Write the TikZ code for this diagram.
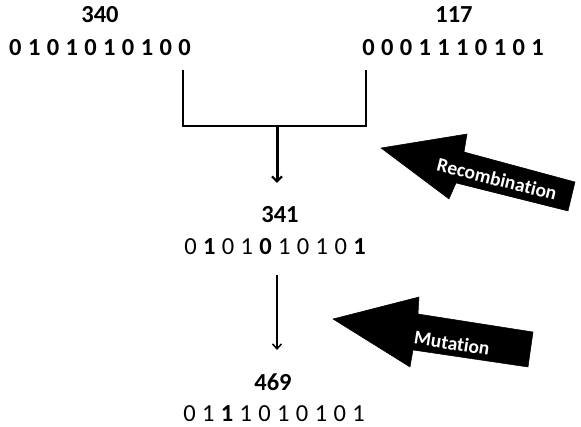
\documentclass[tikz,border=0pt]{standalone}
\usepackage{fontspec}
\setmainfont{Carlito}[Ligatures={NoCommon,NoRequired,NoContextual}]
\usetikzlibrary{arrows.meta}
\newcommand{\widespacing}{\spaceskip=0.26em\relax}
\begin{document}
\begin{tikzpicture}[x=1pt,y=1pt,
  num/.style={font=\fontsize{24.5}{28}\selectfont\bfseries, inner sep=0pt, anchor=center},
  bits/.style={font=\fontsize{24.5}{28}\selectfont, execute at begin node=\widespacing, inner sep=0pt, anchor=center},
  bbits/.style={font=\fontsize{24.5}{28}\selectfont\bfseries, execute at begin node=\widespacing, inner sep=0pt, anchor=center},
  bracket/.style={line width=1.6pt},
  thickarrow/.style={line width=3pt, -{Straight Barb[length=5pt,width=10pt,line width=2.2pt]}},
  thinarrow/.style={line width=1.5pt, -{Straight Barb[length=5pt,width=9pt]}},
  bigarrow/.style={fill=black, draw=black, line width=0.5pt},
  arrowlabel/.style={font=\fontsize{19.5}{22}\selectfont\bfseries, text=white, inner sep=0pt}
]
\useasboundingbox (0,0) rectangle (581,427);
% parents
\node[num] (n340) at (100,412) {340};
\node[bbits] (b340) at (100,379) {0 1 0 1 0 1 0 1 0 0};
\node[num] (n117) at (454,412) {117};
\node[bbits] (b117) at (453,379) {0 0 0 1 1 1 0 1 0 1};
% bracket
\coordinate (bl) at (183,357);
\coordinate (br) at (366,357);
\coordinate (blb) at (183,301);
\coordinate (brb) at (366,301);
\coordinate (bm) at (277,301);
\coordinate (a1end) at (277,244);
\draw[bracket] (bl) -- (blb) -- (brb) -- (br);
\draw[thickarrow] (bm) -- (a1end);
% child
\node[num] (n341) at (280,212) {341};
\node[bits] (b341) at (275,180) {0 \textbf{1} 0 1 \textbf{0} 1 0 1 0 \textbf{1}};
\coordinate (a2start) at (277,152);
\coordinate (a2end) at (277,77);
\draw[thinarrow] (a2start) -- (a2end);
% mutant
\node[num] (n469) at (273,45) {469};
\node[bits] (b469) at (274,13) {0 1 \textbf{1} 1 0 1 0 1 0 1};
% big arrows
\fill[bigarrow] (381,279) -- (467,293) -- (464,275) -- (575,245) -- (568,216) -- (456,244) -- (449,228) -- cycle;
\node[arrowlabel, rotate=-14] (lrec) at (497,248) {Recombination};
\fill[bigarrow] (333,108) -- (419,130) -- (418,113) -- (533,95) -- (528,60) -- (413,77) -- (410,60) -- cycle;
\node[arrowlabel, rotate=-9] (lmut) at (452,84) {Mutation};
\end{tikzpicture}
\end{document}
